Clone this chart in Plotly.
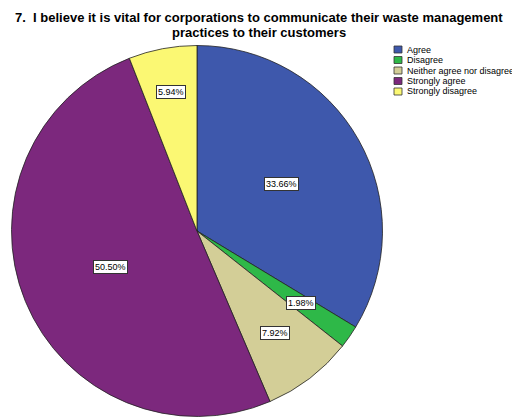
import math
import plotly.graph_objects as go

# ---- data ----
categories = ["Agree", "Disagree", "Neither agree nor disagree", "Strongly agree", "Strongly disagree"]
counts = [34, 2, 8, 51, 6]
colors = ["#3E58AC", "#2EB848", "#D3CE97", "#7C287D", "#FBF873"]
title_lines = ["7.  I believe it is vital for corporations to communicate their waste management",
               "practices to their customers"]
# radial position of each percentage label (fraction of radius) - style
label_radius = [0.52, 0.68, 0.69, 0.505, 0.76]

W, H = 512, 417
cx, cy, R = 197.0, 231.0, 185.5  # pie centre / radius in px

fig = go.Figure(go.Pie(
    labels=categories, values=counts, sort=False, direction="clockwise", rotation=0,
    marker=dict(colors=colors, line=dict(color="#222222", width=0.8)),
    textinfo="none", hoverinfo="label+percent", showlegend=False,
    domain=dict(x=[(cx - R) / W, (cx + R) / W], y=[1 - (cy + R) / H, 1 - (cy - R) / H]),
))

annotations = []
total = sum(counts)
cum = 0
for v, f in zip(counts, label_radius):
    mid = (cum + v / 2) / total * 2 * math.pi
    cum += v
    px = cx + R * f * math.sin(mid)
    py = cy - R * f * math.cos(mid)
    annotations.append(dict(
        x=px / W, y=1 - py / H, xref="paper", yref="paper", showarrow=False,
        text=f"{v / total * 100:.2f}%", font=dict(family="Liberation Sans, Arial", size=9, color="black"),
        bgcolor="white", bordercolor="#333333", borderwidth=1, borderpad=1,
        xanchor="center", yanchor="middle"))

# title (two lines)
for i, line in enumerate(title_lines):
    annotations.append(dict(
        x=258.5 / W, y=1 - (18 + 15 * i) / H, xref="paper", yref="paper", showarrow=False,
        text=f"<b>{line}</b>", font=dict(family="Liberation Sans, Arial", size=13, color="black"),
        xanchor="center", yanchor="middle"))

# legend (manual, compact)
shapes = []
leg_x, leg_y0, leg_dy = 394, 49.5, 10.5
for i, (c, name) in enumerate(zip(colors, categories)):
    yc = leg_y0 + i * leg_dy
    shapes.append(dict(type="rect", xref="paper", yref="paper",
                       x0=leg_x / W, x1=(leg_x + 8) / W, y0=1 - (yc + 3.5) / H, y1=1 - (yc - 3.5) / H,
                       fillcolor=c, line=dict(color="#333333", width=0.8)))
    annotations.append(dict(
        x=(leg_x + 10.5) / W, y=1 - yc / H, xref="paper", yref="paper", showarrow=False,
        text=name, font=dict(family="Liberation Sans, Arial", size=9, color="black"),
        xanchor="left", yanchor="middle"))

fig.update_layout(
    width=W, height=H, margin=dict(l=0, r=0, t=0, b=0),
    paper_bgcolor="white", plot_bgcolor="white",
    annotations=annotations, shapes=shapes, showlegend=False,
)
fig.write_html("out.html")
